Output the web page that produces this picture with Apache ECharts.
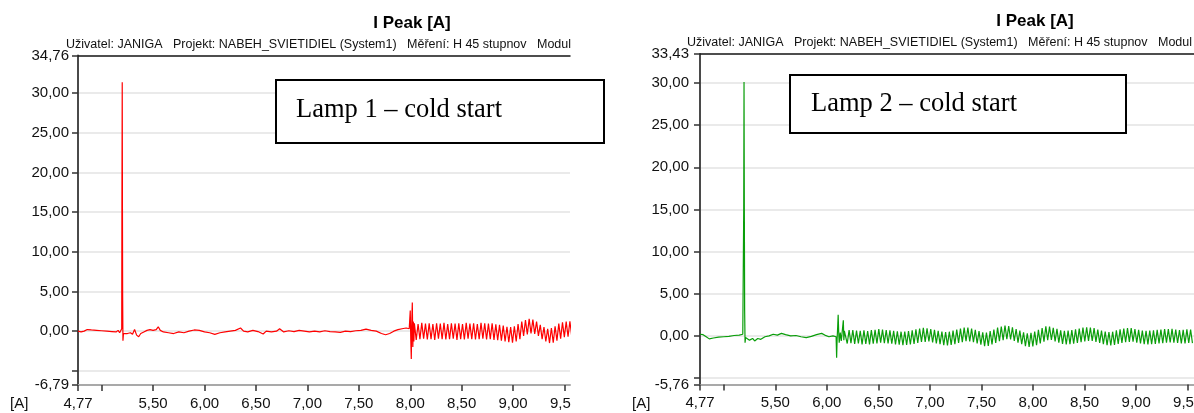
<!DOCTYPE html>
<html>
<head>
<meta charset="utf-8">
<title>I Peak [A]</title>
<script src="https://cdn.jsdelivr.net/npm/echarts@6/dist/echarts.min.js"></script>
<style>
    html, body {
        margin: 0;
        padding: 0;
        background: #fff;
    }
    #chart {
        width: 1194px;
        height: 413px;
    }
</style>
</head>
<body>
<div id="chart"></div>
<script>
// ---- data ----
const titleText = 'I Peak [A]';
const headerText = 'Uživatel: JANIGA   Projekt: NABEH_SVIETIDIEL (System1)   Měření: H 45 stupnov   Modul';
const lampLabels = ['Lamp 1 – cold start', 'Lamp 2 – cold start'];

const xTicks = [4.77, 5.0, 5.5, 6.0, 6.5, 7.0, 7.5, 8.0, 8.5, 9.0, 9.5];
const xLabels = [4.77, 5.5, 6.0, 6.5, 7.0, 7.5, 8.0, 8.5, 9.0, 9.5];

const yTicksLeft = [-6.79, -5, 0, 5, 10, 15, 20, 25, 30, 34.76];
const yLabelsLeft = [-6.79, 0, 5, 10, 15, 20, 25, 30, 34.76];
const yTicksRight = [-5.76, -5, 0, 5, 10, 15, 20, 25, 30, 33.43];
const yLabelsRight = [-5.76, 0, 5, 10, 15, 20, 25, 30, 33.43];

// lamp 1: start-up, ignition spike and the slow part before the ripple [t, A]
const lampOneStart = [
    [4.77, 0.0], [4.8, -0.1], [4.83, 0.0], [4.86, 0.2], [4.9, 0.15], [4.95, 0.1], [5.0, 0.05],
    [5.05, 0.0], [5.1, -0.05], [5.14, -0.1], [5.16, 0.1], [5.175, -0.2], [5.19, 0.0],
    [5.195, 0.3], [5.197, 15.7], [5.2, 31.4], [5.202, 15.5], [5.204, 4.5], [5.207, -1.2], [5.212, -0.3],
    [5.22, -0.4], [5.25, -0.3], [5.28, -0.2], [5.3, -0.4], [5.32, 0.2], [5.34, -0.5], [5.36, -0.7],
    [5.38, -0.3], [5.41, -0.1], [5.44, 0.1], [5.47, 0.2], [5.5, 0.1], [5.53, 0.2], [5.55, 0.55],
    [5.57, 0.1], [5.6, -0.1], [5.65, -0.2], [5.7, -0.3], [5.75, -0.1], [5.8, -0.2], [5.85, 0.0],
    [5.9, 0.15], [5.95, 0.1], [6.0, -0.1], [6.05, -0.2], [6.1, -0.4], [6.15, -0.2], [6.2, -0.1],
    [6.25, 0.0], [6.3, 0.1], [6.35, 0.4], [6.38, 0.0], [6.42, -0.1], [6.47, 0.1], [6.52, -0.05],
    [6.57, -0.35], [6.6, 0.0], [6.65, -0.1], [6.7, 0.0], [6.73, 0.3], [6.77, -0.1], [6.82, 0.05],
    [6.87, -0.05], [6.92, 0.1], [6.97, 0.0], [7.02, -0.1], [7.07, 0.0], [7.12, -0.1], [7.17, 0.05],
    [7.22, -0.05], [7.27, -0.1], [7.32, -0.15], [7.37, 0.0], [7.42, -0.05], [7.47, 0.05], [7.52, 0.1],
    [7.57, 0.25], [7.62, 0.1], [7.67, 0.0], [7.72, -0.3], [7.76, -0.45], [7.8, -0.3], [7.84, 0.0],
    [7.88, 0.2], [7.92, 0.3], [7.96, 0.4], [7.99, 0.3],
    [7.995, 0.5], [8.0, 2.6], [8.005, -1.0], [8.01, -3.5], [8.015, 1.2], [8.02, 3.6], [8.025, -2.0],
    [8.03, 1.2], [8.035, -1.3]
];
// lamp 1 ripple: peaks read every 0.018 s from 8.04 s
const lampOneRippleStart = 8.04;
const lampOneRipple = [
    1.0, -1.1, 0.9, -1.0, 1.05, -0.95, 0.95, -1.05, 1.0, -1.0, 0.9, -1.1, 1.0, -0.95,
    0.95, -1.0, 1.05, -1.05, 0.9, -1.0, 1.0, -0.95, 0.95, -1.1, 1.0, -1.0, 0.9, -1.05,
    1.05, -0.95, 0.95, -1.0, 1.0, -1.05, 0.9, -1.0, 1.05, -0.95, 1.0, -1.05, 0.95, -1.0,
    1.0, -1.1, 0.85, -1.15, 0.8, -1.2, 0.7, -1.3, 0.55, -1.4, 0.5, -1.45, 0.6, -1.3,
    0.9, -1.0, 1.2, -0.6, 1.4, -0.4, 1.55, -0.3, 1.45, -0.35, 1.2, -0.6, 0.8, -1.0,
    0.5, -1.3, 0.3, -1.5, 0.4, -1.45, 0.6, -1.2, 0.95, -0.95, 1.1, -0.75, 1.2, -0.7,
    1.25, -0.65
];

// lamp 2
const lampTwoStart = [
    [4.77, 0.2], [4.8, 0.15], [4.83, -0.1], [4.86, -0.35], [4.9, -0.25], [4.95, -0.15], [5.0, -0.1],
    [5.05, -0.05], [5.1, 0.05], [5.15, 0.1], [5.185, 0.2], [5.19, 0.3],
    [5.194, 15.0], [5.197, 30.1], [5.2, 15.0], [5.203, 3.0], [5.207, -0.8], [5.212, -0.2],
    [5.22, -0.4], [5.25, -0.5], [5.28, -0.3], [5.3, -0.6], [5.33, -0.3], [5.36, -0.4], [5.4, -0.1],
    [5.44, 0.0], [5.48, 0.2], [5.52, 0.1], [5.56, 0.3], [5.6, 0.15], [5.65, 0.0], [5.7, 0.05],
    [5.75, -0.1], [5.8, -0.2], [5.85, -0.05], [5.9, 0.15], [5.95, 0.3], [5.98, 0.1], [6.02, -0.1],
    [6.06, 0.0], [6.09, -0.1],
    [6.095, -2.6], [6.1, -0.3], [6.105, 1.0], [6.11, 2.5], [6.115, 0.5], [6.12, -0.8], [6.13, 0.4],
    [6.14, -0.6], [6.15, 0.6], [6.16, 1.85], [6.165, -0.5], [6.17, 0.6]
];
const lampTwoRippleStart = 6.18;
const lampTwoRipple = [
    0.72, -0.9, 0.68, -0.85, 0.7, -0.95, 0.62, -0.9, 0.6, -1.0, 0.66, -0.95, 0.58, -1.0,
    0.7, -0.92, 0.72, -0.88, 0.8, -0.8, 0.75, -0.85, 0.7, -0.9, 0.66, -0.92, 0.6, -1.0,
    0.55, -1.05, 0.5, -1.1, 0.52, -1.08, 0.58, -1.02, 0.66, -0.95, 0.78, -0.82, 0.88, -0.72,
    0.95, -0.7, 0.9, -0.66, 0.82, -0.78, 0.72, -0.88, 0.6, -0.98, 0.52, -1.1, 0.45, -1.12,
    0.5, -1.08, 0.62, -0.98, 0.76, -0.84, 0.88, -0.74, 0.98, -0.62, 1.0, -0.66, 0.86, -0.74,
    0.72, -0.9, 0.56, -1.04, 0.42, -1.2, 0.4, -1.18, 0.58, -1.02, 0.76, -0.84, 0.98, -0.62,
    1.12, -0.5, 1.24, -0.38, 1.18, -0.42, 1.02, -0.58, 0.82, -0.8, 0.62, -0.98, 0.42, -1.2,
    0.32, -1.3, 0.36, -1.24, 0.52, -1.1, 0.72, -0.9, 0.92, -0.68, 1.14, -0.5, 1.1, -0.48,
    0.96, -0.64, 0.84, -0.8, 0.66, -0.94, 0.6, -1.0, 0.62, -0.98, 0.68, -0.92, 0.78, -0.84,
    0.86, -0.74, 0.98, -0.64, 1.02, -0.58, 1.0, -0.6, 0.92, -0.7, 0.76, -0.84, 0.62, -0.98,
    0.52, -1.1, 0.46, -1.14, 0.5, -1.08, 0.66, -0.94, 0.78, -0.82, 0.86, -0.74, 0.94, -0.7,
    0.92, -0.68, 0.82, -0.8, 0.72, -0.9, 0.62, -0.98, 0.6, -1.0, 0.64, -0.98, 0.66, -0.94,
    0.72, -0.88, 0.76, -0.86, 0.82, -0.8, 0.8, -0.78, 0.84, -0.8, 0.76, -0.84, 0.7, -0.9,
    0.72, -0.88, 0.78, -0.84, 0.76, -0.86
];
const rippleStep = 0.018;

// ---- chart ----
const chart = echarts.init(document.getElementById('chart'));

const fmt = v => v.toFixed(2).replace('.', ',');
const labelFont = {
    fontFamily: 'Liberation Sans, Arial, sans-serif',
    fontSize: 15,
    color: '#111'
};

function joinRipple(start, ripple, t0) {
    return start.concat(ripple.map((v, i) => [t0 + i * rippleStep, v]));
}

function bottomAxis(gridIndex, max) {
    return {
        type: 'value',
        gridIndex: gridIndex,
        position: 'bottom',
        min: 4.77,
        max: max,
        axisLine: { onZero: false, lineStyle: { color: '#a9a9a9', width: 2 } },
        axisTick: { customValues: xTicks, length: 6, lineStyle: { color: '#333', width: 1.5 } },
        axisLabel: Object.assign({ customValues: xLabels, margin: 11, formatter: fmt }, labelFont),
        splitLine: { show: false }
    };
}
function topAxis(gridIndex, max) {
    return {
        type: 'value',
        gridIndex: gridIndex,
        position: 'top',
        min: 4.77,
        max: max,
        axisLine: { onZero: false, lineStyle: { color: '#1a1a1a', width: 1.5 } },
        axisTick: { show: false },
        axisLabel: { show: false },
        splitLine: { show: false }
    };
}
function leftAxis(gridIndex, min, max, ticks, labels, margin) {
    return {
        type: 'value',
        gridIndex: gridIndex,
        min: min,
        max: max,
        axisLine: { show: true, onZero: false, lineStyle: { color: '#4a4a4a', width: 2 } },
        axisTick: { show: true, customValues: ticks, length: 6, lineStyle: { color: '#333', width: 1.5 } },
        axisLabel: Object.assign({ customValues: labels, margin: margin, formatter: fmt }, labelFont),
        splitLine: { show: true, lineStyle: { color: '#e3e3e3', width: 1.5 } }
    };
}

const headerFont = 'normal 12.5px "Liberation Sans", Arial, sans-serif';
const boxFont = 'normal 26.5px "Liberation Serif", "Times New Roman", serif';
const titleStyle = { fontFamily: 'Liberation Sans, Arial', fontWeight: 'bold', fontSize: 17, color: '#000' };

const options = {
    animation: false,
    backgroundColor: '#fff',
    title: [
        { text: titleText, left: 407, top: 10, textAlign: 'center', textStyle: titleStyle },
        { text: titleText, left: 1030, top: 8, textAlign: 'center', textStyle: titleStyle }
    ],
    grid: [
        { left: 78, top: 55.5, width: 492, height: 329.5, outerBoundsMode: 'none' },
        { left: 700, top: 54, width: 494, height: 330.5, outerBoundsMode: 'none' }
    ],
    xAxis: [
        bottomAxis(0, 9.553),
        topAxis(0, 9.553),
        bottomAxis(1, 9.561),
        topAxis(1, 9.561)
    ],
    yAxis: [
        leftAxis(0, -6.79, 34.76, yTicksLeft, yLabelsLeft, 9),
        leftAxis(1, -5.76, 33.43, yTicksRight, yLabelsRight, 11)
    ],
    series: [
        {
            name: lampLabels[0],
            type: 'line',
            xAxisIndex: 0,
            yAxisIndex: 0,
            showSymbol: false,
            lineStyle: { color: '#ff0000', width: 1.2 },
            data: joinRipple(lampOneStart, lampOneRipple, lampOneRippleStart)
        },
        {
            name: lampLabels[1],
            type: 'line',
            xAxisIndex: 2,
            yAxisIndex: 1,
            showSymbol: false,
            lineStyle: { color: '#0a9e0a', width: 1.2 },
            data: joinRipple(lampTwoStart, lampTwoRipple, lampTwoRippleStart)
        }
    ],
    graphic: [
        // measurement header over each plot
        { type: 'text', x: 66, y: 38, z: 5, style: { text: headerText, font: headerFont, fill: '#111' } },
        { type: 'text', x: 687, y: 36, z: 5, style: { text: headerText, font: headerFont, fill: '#111' } },
        // unit under the y axis
        { type: 'text', x: 10, y: 396, z: 5, style: { text: '[A]', font: 'normal 15px "Liberation Sans", Arial', fill: '#111' } },
        { type: 'text', x: 632, y: 396, z: 5, style: { text: '[A]', font: 'normal 15px "Liberation Sans", Arial', fill: '#111' } },
        // the left plot picture ends at its right edge
        { type: 'rect', z: 100, shape: { x: 571, y: 0, width: 60, height: 413 }, style: { fill: '#fff' } },
        // pasted caption boxes
        {
            type: 'rect', z: 110,
            shape: { x: 276, y: 80, width: 328, height: 63 },
            style: { fill: '#fff', stroke: '#000', lineWidth: 2 }
        },
        { type: 'text', x: 296, y: 97, z: 111, style: { text: lampLabels[0], font: boxFont, fill: '#000' } },
        {
            type: 'rect', z: 110,
            shape: { x: 790, y: 75, width: 336, height: 58 },
            style: { fill: '#fff', stroke: '#000', lineWidth: 2 }
        },
        { type: 'text', x: 811, y: 91, z: 111, style: { text: lampLabels[1], font: boxFont, fill: '#000' } }
    ]
};

chart.setOption(options, true);
</script>
</body>
</html>
